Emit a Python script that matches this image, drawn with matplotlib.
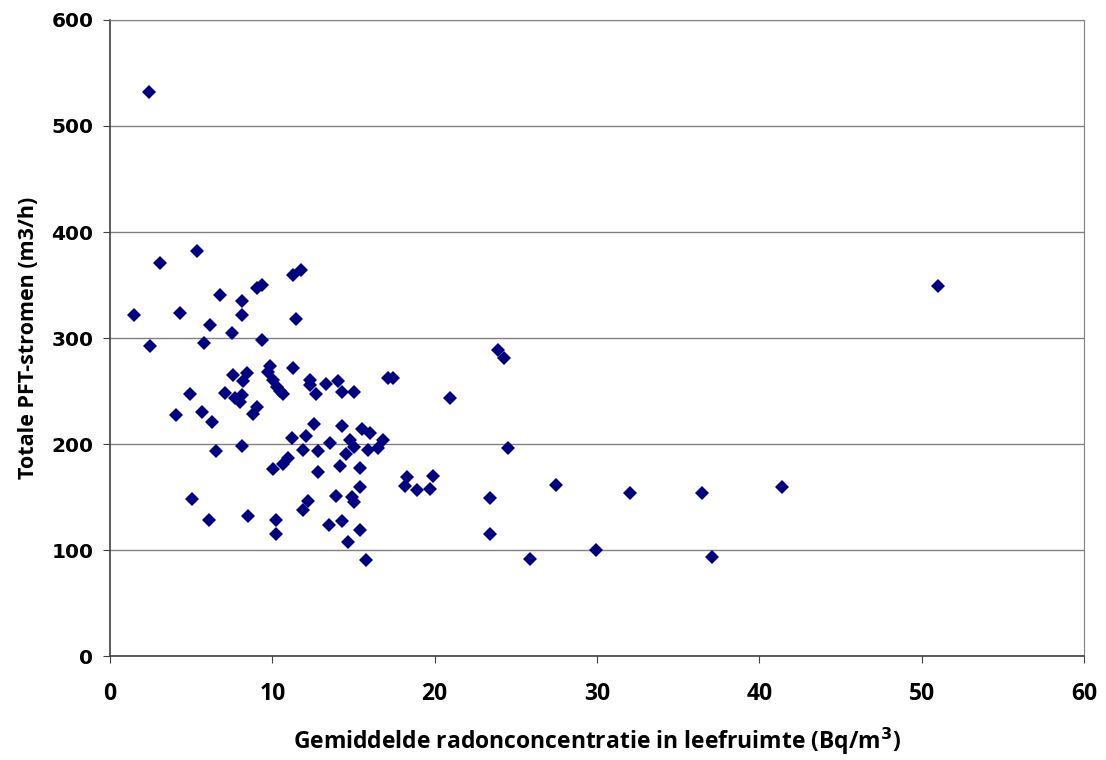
import numpy as np
import matplotlib
matplotlib.use("Agg")
import matplotlib.pyplot as plt

# radon concentration (Bq/m3) and total PFT flow (m3/h)
radon = [1.46, 2.40, 2.44, 3.08, 4.04, 4.29, 4.93, 5.03, 5.38, 5.65,
         5.77, 6.12, 6.14, 6.26, 6.50, 6.78, 7.08, 7.52, 7.60, 7.70,
         8.00, 8.10, 8.10, 8.13, 8.13, 8.20, 8.42, 8.48, 8.83, 9.07,
         9.05, 9.35, 9.34, 9.70, 9.86, 10.06, 10.06, 10.20, 10.20, 10.27,
         10.47, 10.67, 10.67, 10.95, 11.19, 11.25, 11.30, 11.46, 11.75, 11.90,
         11.90, 12.10, 12.17, 12.32, 12.32, 12.55, 12.67, 12.80, 12.80, 13.30,
         13.50, 13.55, 13.90, 14.06, 14.17, 14.27, 14.27, 14.27, 14.52, 14.64,
         14.78, 14.90, 15.00, 15.00, 15.03, 15.40, 15.40, 15.40, 15.50, 15.75,
         15.90, 16.00, 16.50, 16.83, 17.15, 17.45, 18.20, 18.30, 18.90, 19.70,
         19.90, 20.95, 23.40, 23.40, 23.88, 24.27, 24.50, 25.87, 27.45, 29.94,
         32.03, 36.47, 37.08, 41.40, 51.03]
pft = [322, 532, 292, 371, 227, 324, 247, 148, 382, 230,
       295, 128, 312, 221, 193, 341, 248, 305, 265, 243,
       240, 246, 198, 335, 322, 259, 267, 132, 228, 235,
       347, 350, 298, 268, 274, 260, 176, 128, 115, 254,
       250, 247, 181, 187, 206, 359, 272, 318, 364, 194,
       138, 208, 146, 260, 256, 219, 247, 193, 174, 257,
       124, 201, 151, 259, 179, 249, 217, 127, 191, 108,
       204, 150, 145, 197, 249, 177, 159, 119, 214, 91,
       194, 210, 196, 204, 262, 262, 160, 169, 157, 158,
       170, 243, 149, 115, 289, 281, 196, 92, 161, 100,
       154, 154, 93, 159, 349]

xticks = [0, 10, 20, 30, 40, 50, 60]
yticks = [0, 100, 200, 300, 400, 500, 600]

fig = plt.figure(figsize=(11.06, 7.6), dpi=100)
ax = fig.add_axes([0.0995, 0.1368, 0.8806, 0.8369])

ax.plot(radon, pft, linestyle="none", marker="D", markersize=7.4,
        color="#000080", markeredgewidth=0, zorder=3)

ax.set_xlim(0, 60)
ax.set_ylim(0, 600)
ax.set_xticks(xticks)
ax.set_yticks(yticks)
ax.yaxis.grid(True, color="#808080", linewidth=1)
ax.set_axisbelow(True)

for side in ["top", "right"]:
    ax.spines[side].set_color("#808080")
for side in ["left", "bottom"]:
    ax.spines[side].set_color("#404040")
    ax.spines[side].set_linewidth(1.2)

ax.tick_params(axis="both", direction="out", length=5, color="#404040")
ax.tick_params(axis="y", pad=7)
ax.tick_params(axis="x", pad=14)

for lab in ax.get_yticklabels():
    lab.set_fontfamily("DejaVu Sans")
    lab.set_fontweight("bold")
    lab.set_fontsize(14.5)
for lab in ax.get_xticklabels():
    lab.set_fontfamily("Open Sans")
    lab.set_fontweight("bold")
    lab.set_fontsize(16.5)

ax.set_xlabel("Gemiddelde radonconcentratie in leefruimte (Bq/m$^\\mathbf{3}$)",
              fontfamily="Open Sans", fontweight="bold", fontsize=16.5, labelpad=14)
ax.set_ylabel("Totale PFT-stromen (m3/h)", fontfamily="Open Sans",
              fontweight="bold", fontsize=15.5, labelpad=9)

fig.savefig("out.png", dpi=100)
